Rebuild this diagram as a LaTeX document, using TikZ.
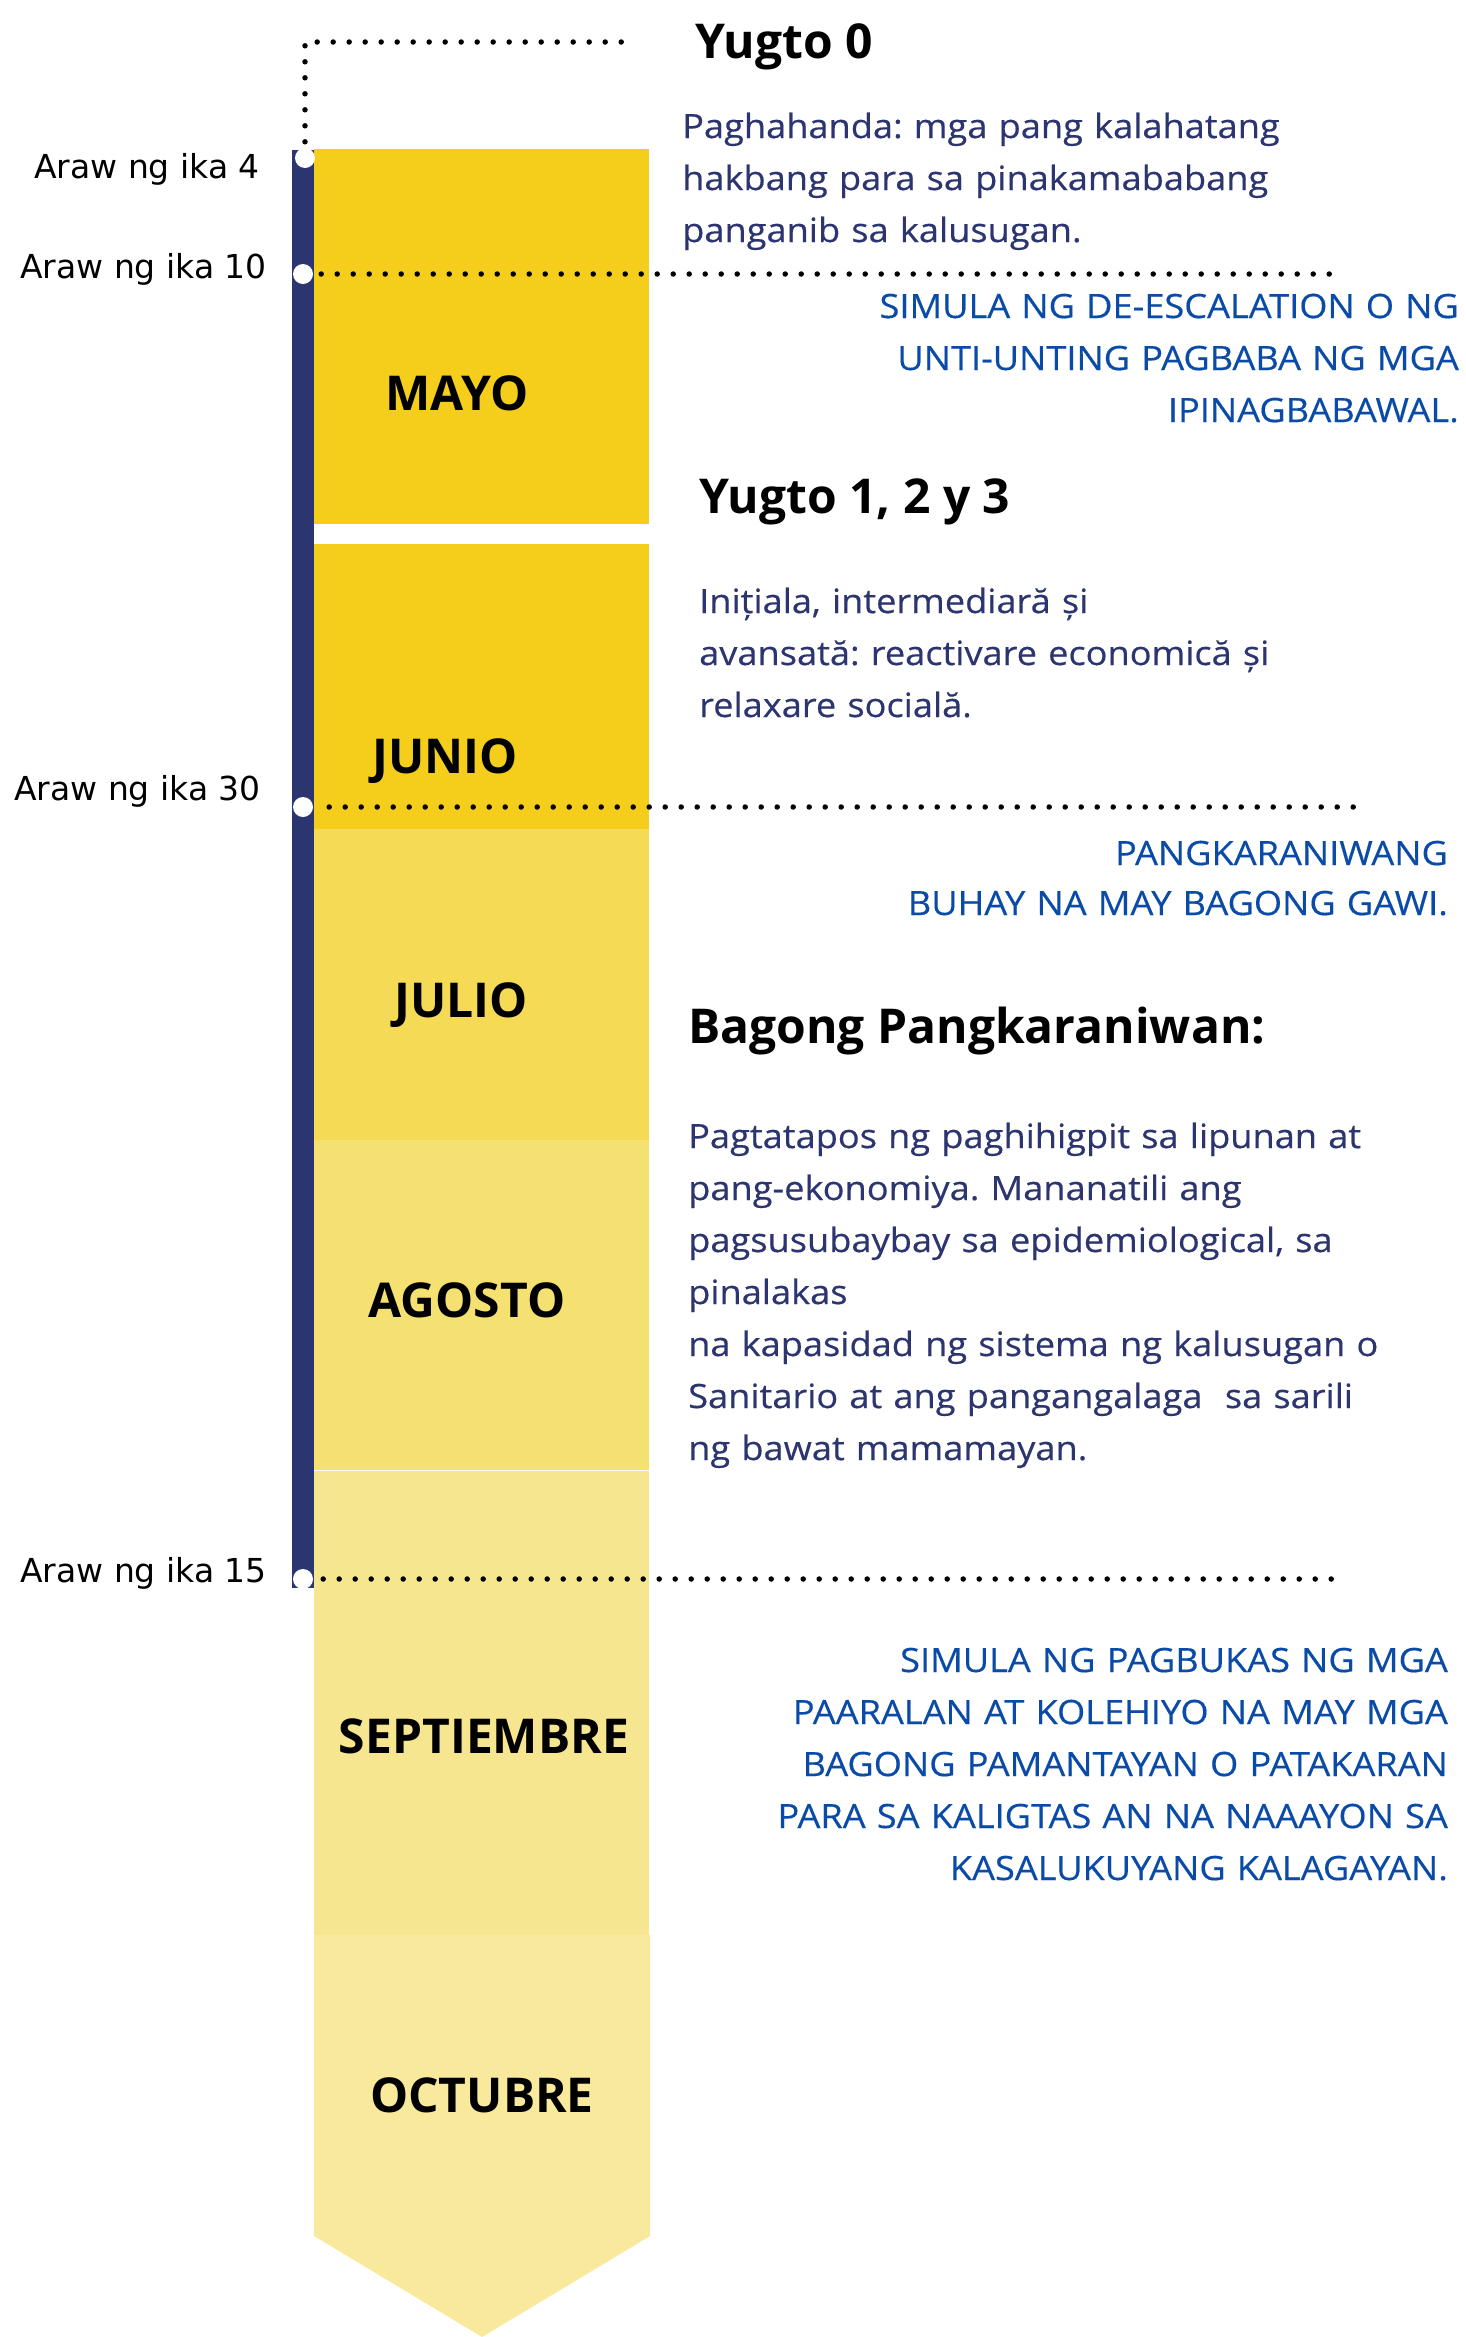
\documentclass[tikz,border=0pt]{standalone}
\usepackage{fontspec}
\setmainfont{Open Sans}
\newfontfamily\arawfont{DejaVu Sans}
\newfontfamily\phasefont[FakeStretch=1.08,FakeBold=0.4]{Open Sans}
\usetikzlibrary{positioning}
\frenchspacing
\definecolor{barnavy}{HTML}{2B356F}
\definecolor{txtnavy}{HTML}{2C3570}
\definecolor{capblue}{HTML}{0B4BA8}
\definecolor{mayoyellow}{HTML}{F4CE1A}
\definecolor{julioyellow}{HTML}{F5DA55}
\definecolor{agostoyellow}{HTML}{F5E072}
\definecolor{septyellow}{HTML}{F7E690}
\definecolor{octyellow}{HTML}{F8E99D}
\tikzstyle{month box}=[inner sep=0pt, anchor=north west, minimum width=335pt]
\tikzstyle{month label}=[anchor=base, inner sep=0pt, font=\bfseries\fontsize{48}{52}\selectfont]
\tikzstyle{day label}=[anchor=base east, inner sep=0pt, font=\arawfont\fontsize{33}{36}\selectfont]
\tikzstyle{day dot}=[circle, fill=white, inner sep=0pt, minimum size=20pt]
\tikzstyle{dot line}=[line width=5.5pt, line cap=round, dash pattern=on 0pt off 16pt]
\tikzstyle{phase head}=[anchor=base west, inner sep=0pt, font=\bfseries\fontsize{48}{52}\selectfont]
\tikzstyle{phase text}=[anchor=base west, inner sep=0pt, text width=800pt, align=left, text=txtnavy, font=\phasefont\fontsize{33.5}{52}\selectfont]
\tikzstyle{phase caps}=[anchor=base east, inner sep=0pt, text width=800pt, align=right, text=capblue, font=\phasefont\fontsize{33.5}{52}\selectfont]
\newcommand{\monthlabel}[3]{
  \node [month label] (#1) at (#2) {#3}
}
\newcommand{\daylabel}[3]{
  \node [day label] (#1) at (#2) {#3}
}

\begin{document}
\begin{tikzpicture}[x=1pt, y=-1pt]
        \useasboundingbox (0,0) rectangle (1466,2337);

        % month blocks
        \node[month box, fill=mayoyellow, minimum height=375pt] (mayo) at (314,149) {};
        \node[month box, fill=mayoyellow, minimum height=285pt, below=19pt of mayo.south west, anchor=north west] (junio) {};
        \node[month box, fill=julioyellow, minimum height=311pt, below=0pt of junio.south west, anchor=north west] (julio) {};
        \node[month box, fill=agostoyellow, minimum height=330pt, below=0pt of julio.south west, anchor=north west] (agosto) {};
        \node[month box, fill=septyellow, minimum height=466pt, below=0pt of agosto.south west, anchor=north west] (septiembre) {};
        \fill[octyellow] (314,1935) -- (650,1935) -- (650,2236) -- (482,2337) -- (314,2236) -- cycle;

        \monthlabel{mayolbl}{457,410}{MAYO};
        \monthlabel{juniolbl}{445,773}{JUNIO};
        \monthlabel{juliolbl}{461,1017}{JULIO};
        \monthlabel{agostolbl}{467,1317}{AGOSTO};
        \monthlabel{septlbl}{484,1753}{SEPTIEMBRE};
        \monthlabel{octlbl}{482,2112}{OCTUBRE};

        % time bar
        \node[fill=barnavy, inner sep=0pt, anchor=north west, minimum width=22pt, minimum height=1438pt] (timebar) at (292,150) {};

        % dotted markers
        \coordinate (y0end) at (632,42);
        \coordinate (end10) at (1338,274);
        \coordinate (end30) at (1360,807);
        \coordinate (end15) at (1338,1579);
        \node[day dot] (tick4) at (305,158) {};
        \node[day dot] (tick10) at (303,274) {};
        \node[day dot] (tick30) at (303,807) {};
        \node[day dot] (tick15) at (303,1579) {};
        \draw[dot line, shorten <=6pt] (tick4.north) |- (y0end);
        \draw[dot line, shorten <=8pt] (tick10.east) -- (end10);
        \draw[dot line, shorten <=16pt] (tick30.east) -- (end30);
        \draw[dot line, shorten <=10pt] (tick15.east) -- (end15);

        \daylabel{day4}{260,178}{Araw ng ika 4};
        \daylabel{day10}{267,278}{Araw ng ika 10};
        \daylabel{day30}{261,800}{Araw ng ika 30};
        \daylabel{day15}{267,1582}{Araw ng ika 15};

        % phase texts
        \node[phase head] (yugto0) at (695,58) {Yugto 0};
        \node[phase text] (prep) at (682,138) {Paghahanda: mga pang kalahatang\\hakbang para sa pinakamababang\\panganib sa kalusugan.};
        \node[phase caps] (deesc) at (1459,318) {SIMULA NG DE-ESCALATION O NG\\UNTI-UNTING PAGBABA NG MGA\\IPINAGBABAWAL.};

        \node[phase head] (yugto123) at (699,513) {Yugto 1, 2 y 3};
        \node[phase text] (reactiv) at (699,613) {Inițiala, intermediară și\\avansată: reactivare economică și\\relaxare socială.};
        \node[phase caps, font=\phasefont\fontsize{33.5}{50}\selectfont] (normal) at (1448,865) {PANGKARANIWANG\\BUHAY NA MAY BAGONG GAWI.};

        \node[phase head] (bagong) at (688,1043) {Bagong Pangkaraniwan:};
        \node[phase text] (endrest) at (688,1148) {Pagtatapos ng paghihigpit sa lipunan at\\pang-ekonomiya. Mananatili ang\\pagsusubaybay sa epidemiological, sa\\pinalakas\\na kapasidad ng sistema ng kalusugan o\\Sanitario at ang pangangalaga~ sa sarili\\ng bawat mamamayan.};
        \node[phase caps] (schools) at (1448,1672) {SIMULA NG PAGBUKAS NG MGA\\PAARALAN AT KOLEHIYO NA MAY MGA\\BAGONG PAMANTAYAN O PATAKARAN\\PARA SA KALIGTAS AN NA NAAAYON SA\\KASALUKUYANG KALAGAYAN.};
\end{tikzpicture}
\end{document}
